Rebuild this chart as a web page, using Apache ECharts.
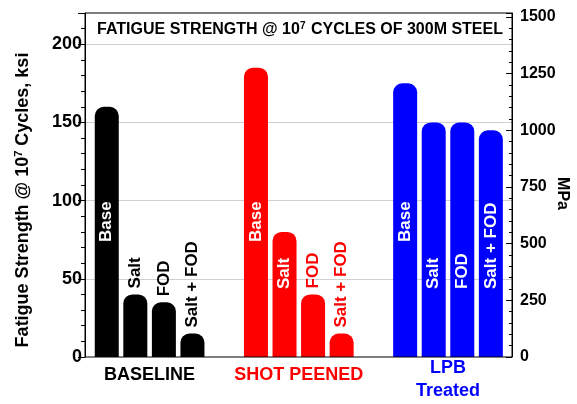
<!DOCTYPE html>
<html>
<head>
<meta charset="utf-8">
<script src="https://cdn.jsdelivr.net/npm/echarts@6/dist/echarts.min.js"></script>
<style>
  html, body { margin: 0; padding: 0; background: #fff; }
  #chart { width: 577px; height: 404px; }
</style>
</head>
<body>
<div id="chart"></div>
<script>
// groups along the x axis and their colours
const groups = ['BASELINE', 'SHOT PEENED', 'LPB\nTreated']
const groupColors = ['#000000', '#ff0000', '#0000ff']
// test conditions (one bar each inside a group)
const conditions = ['Base', 'Salt', 'FOD', 'Salt + FOD']
// fatigue strength @ 1e7 cycles, ksi (BASELINE, SHOT PEENED, LPB)
const baseKsi = [160, 185, 175]
const saltKsi = [40, 80, 150]
const fodKsi = [35, 40, 150]
const saltFodKsi = [15, 15, 145]
// axes
const ksiMax = 220
const ksiStep = 50
const mpaStep = 250
const KSI_TO_MPA = 6.895

const font = "'Liberation Sans', Arial, sans-serif"
const values = [baseKsi, saltKsi, fodKsi, saltFodKsi]

function barData(vals, insideDist) {
  return vals.map((v, i) => {
    const small = v < 60
    return {
      value: v,
      itemStyle: { color: groupColors[i] },
      label: small
        ? { position: 'top', distance: 6, color: groupColors[i] }
        : { position: 'insideBottom', distance: insideDist, color: '#fff' },
    }
  })
}

const chart = echarts.init(document.getElementById('chart'), null, { renderer: 'canvas' })
const option = {
  animation: false,
  textStyle: { fontFamily: font },
  title: {
    text: '{t|FATIGUE STRENGTH @ 10}{s|7}{t| CYCLES OF 300M STEEL}',
    left: 295,
    top: 16,
    textAlign: 'center',
    textStyle: {
      rich: {
        t: { fontFamily: font, fontSize: 16, fontWeight: 'bold', color: '#000', lineHeight: 18 },
        s: { fontFamily: font, fontSize: 10, fontWeight: 'bold', color: '#000', verticalAlign: 'top', padding: [0, 1, 0, 0] },
      },
    },
  },
  grid: [
    // bars
    { left: 75, right: 54.4, top: 13, bottom: 47, show: false, outerBoundsMode: 'none' },
    // frame + axes
    {
      left: 85, right: 65, top: 13, bottom: 47,
      show: true, z: 10, backgroundColor: 'transparent',
      borderColor: '#000', borderWidth: 1,
      outerBoundsMode: 'none',
    },
  ],
  xAxis: [
    {
      type: 'category',
      gridIndex: 0,
      data: groups,
      axisLine: { show: false },
      axisTick: { show: false },
      splitLine: { show: false },
      axisLabel: {
        margin: 0,
        interval: 0,
        formatter: (value, index) =>
          value.split('\n').map((s) => `{g${index}|${s}}`).join('\n'),
        rich: {
          g0: { fontFamily: font, fontSize: 18, fontWeight: 'bold', color: groupColors[0], lineHeight: 36 },
          g1: { fontFamily: font, fontSize: 18, fontWeight: 'bold', color: groupColors[1], lineHeight: 36 },
          g2: { fontFamily: font, fontSize: 18, fontWeight: 'bold', color: groupColors[2], lineHeight: 23 },
        },
      },
    },
    { type: 'value', gridIndex: 1, min: 0, max: 1, show: false },
  ],
  yAxis: [
    { type: 'value', gridIndex: 0, min: 0, max: ksiMax, show: false },
    {
      type: 'value',
      gridIndex: 1,
      position: 'left',
      min: 0,
      max: ksiMax,
      interval: ksiStep,
      name: '{n|Fatigue Strength @ 10}{s|7}{n| Cycles, ksi}',
      nameLocation: 'middle',
      nameRotate: 90,
      nameGap: 52,
      nameMoveOverlap: false,
      nameTextStyle: {
        padding: [0, 30, 0, 0],
        rich: {
          n: { fontFamily: font, fontSize: 18, fontWeight: 'bold', color: '#000', lineHeight: 20 },
          s: { fontFamily: font, fontSize: 11, fontWeight: 'bold', color: '#000', verticalAlign: 'top' },
        },
      },
      axisLine: { show: true, onZero: false, lineStyle: { color: '#000', width: 1 } },
      axisTick: { show: true, length: 7, lineStyle: { color: '#000' } },
      minorTick: { show: true, splitNumber: 5, length: 4, lineStyle: { color: '#000' } },
      splitLine: {
        show: true,
        showMinLine: false,
        showMaxLine: false,
        lineStyle: { color: '#cfcfcf', width: 1 },
      },
      axisLabel: {
        showMaxLabel: false,
        margin: 3,
        fontFamily: font,
        fontSize: 18,
        fontWeight: 'bold',
        color: '#000',
      },
    },
    {
      type: 'value',
      gridIndex: 1,
      position: 'right',
      min: 0,
      max: ksiMax * KSI_TO_MPA,
      interval: mpaStep,
      name: 'MPa',
      nameLocation: 'middle',
      nameRotate: -90,
      nameGap: 42,
      nameMoveOverlap: false,
      nameTextStyle: {
        fontFamily: font,
        fontSize: 16,
        fontWeight: 'bold',
        color: '#000',
        padding: [0, 0, 0, 17],
      },
      axisLine: { show: true, onZero: false, lineStyle: { color: '#000', width: 1 } },
      axisTick: { show: true, inside: true, length: 6, lineStyle: { color: '#000' } },
      minorTick: { show: true, splitNumber: 5, length: 3, lineStyle: { color: '#000' } },
      splitLine: { show: false },
      axisLabel: {
        showMaxLabel: false,
        margin: 8,
        fontFamily: font,
        fontSize: 16,
        fontWeight: 'bold',
        color: '#000',
        formatter: (v) => String(Math.round(v)),
      },
    },
  ],
  series: conditions.map((name, k) => ({
    name,
    type: 'bar',
    xAxisIndex: 0,
    yAxisIndex: 0,
    barWidth: 24,
    barGap: '19%',
    itemStyle: { borderRadius: [9, 9, 0, 0] },
    label: {
      show: true,
      rotate: 90,
      align: 'left',
      verticalAlign: 'middle',
      fontFamily: font,
      fontSize: 17,
      fontWeight: 'bold',
      formatter: name,
    },
    data: barData(values[k], k === 0 ? 115 : 68),
  })),
}
chart.setOption(option)
</script>
</body>
</html>
